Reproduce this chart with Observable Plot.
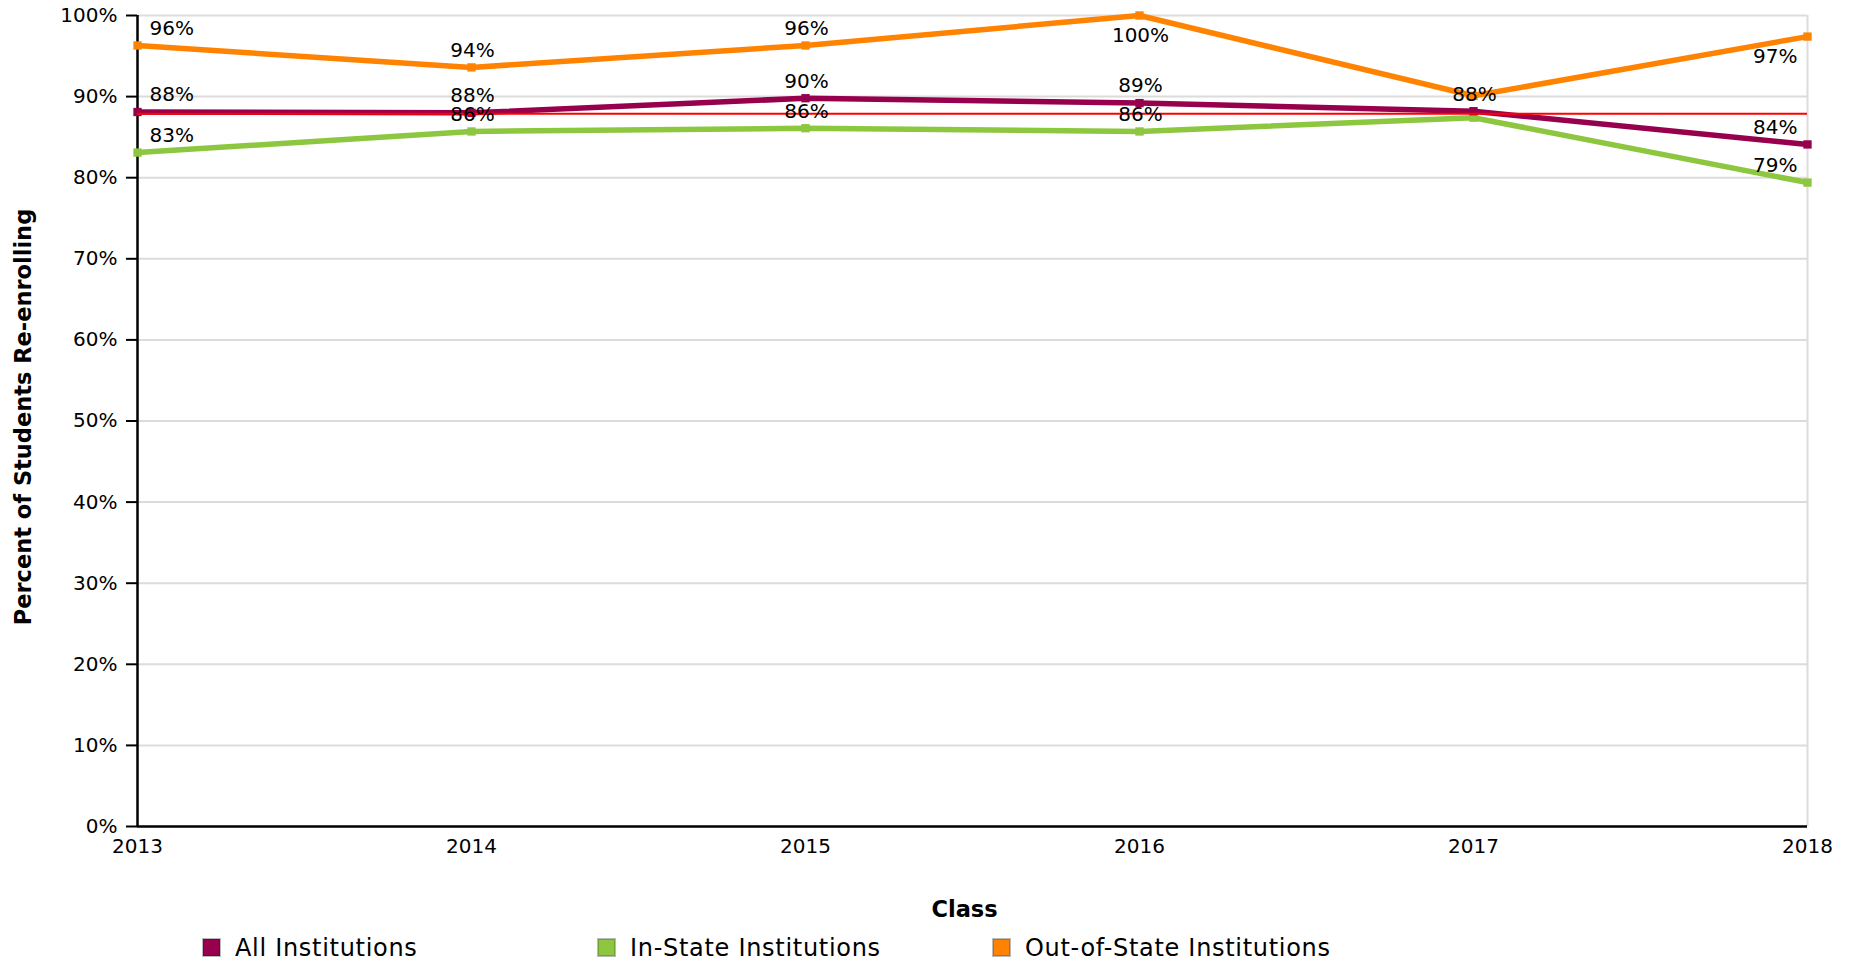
<!DOCTYPE html>
<html>
<head>
<meta charset="utf-8">
<script src="https://cdn.jsdelivr.net/npm/d3@7"></script>
<script src="https://cdn.jsdelivr.net/npm/@observablehq/plot@0.6"></script>
<style>
  html, body { margin: 0; padding: 0; background: #fff; overflow: hidden; }
  body { width: 1858px; height: 966px; font-family: "DejaVu Sans", sans-serif; }
  #legend { display: flex; height: 34px; padding-left: 202px; box-sizing: border-box; padding-top: 6px; }
  .item { display: flex; align-items: center; width: 395px; height: 19px; font-size: 24px; letter-spacing: 0.7px; color: #000; }
  .sw { width: 17px; height: 17px; border: 1px solid #bbb; margin-right: 14px; box-sizing: content-box; }
</style>
</head>
<body>
<div id="chart"></div>
<div id="legend"></div>
<script>
const years = [2013, 2014, 2015, 2016, 2017, 2018];
const allInstitutions = [88.1, 88.0, 89.8, 89.2, 88.2, 84.1];
const inStateInstitutions = [83.1, 85.7, 86.1, 85.7, 87.4, 79.4];
const outOfStateInstitutions = [96.3, 93.6, 96.3, 100, 90.1, 97.4];
const seriesNames = ["All Institutions", "In-State Institutions", "Out-of-State Institutions"];
const seriesColors = ["#97004c", "#8dc63f", "#ff8300"];
const benchmark = [87.9];
const yTicks = [0, 10, 20, 30, 40, 50, 60, 70, 80, 90, 100];
const hiddenLabels = [["In-State Institutions", 2017], ["Out-of-State Institutions", 2017]];
const xTitle = "Class";
const yTitle = "Percent of Students Re-enrolling";

const seriesValues = [allInstitutions, inStateInstitutions, outOfStateInstitutions];
const rows = [];
seriesNames.forEach((name, si) => {
  years.forEach((yr, i) => rows.push({series: name, year: yr, value: seriesValues[si][i]}));
});
const drawOrder = ["In-State Institutions", "All Institutions", "Out-of-State Institutions"];
const sorted = drawOrder.flatMap(n => rows.filter(r => r.series === n));
const colorScale = {domain: seriesNames, range: seriesColors};

const isHidden = r => hiddenLabels.some(([s, y]) => s === r.series && y === r.year);
const firstYear = years[0], lastYear = years[years.length - 1];

function labelMarks() {
  const out = [];
  const anchors = [
    {test: r => r.year === firstYear, textAnchor: "start", dx: 12},
    {test: r => r.year === lastYear, textAnchor: "end", dx: -10},
    {test: r => r.year !== firstYear && r.year !== lastYear, textAnchor: "middle", dx: 1}
  ];
  const places = [
    {test: r => r.value <= 97, dy: -17},
    {test: r => r.value > 97, dy: 20}
  ];
  for (const a of anchors) for (const p of places) {
    out.push(Plot.text(rows.filter(r => a.test(r) && p.test(r) && !isHidden(r)), {
      x: "year", y: "value", text: r => Math.round(r.value) + "%",
      textAnchor: a.textAnchor, dx: a.dx, dy: p.dy, fontSize: 20, fill: "#000"
    }));
  }
  return out;
}

const chart = Plot.plot({
  width: 1858,
  height: 932,
  marginTop: 15,
  marginLeft: 137,
  marginRight: 51,
  marginBottom: 106,
  style: {fontFamily: "DejaVu Sans", fontSize: "20px", color: "#000", background: "#fff", overflow: "visible"},
  x: {domain: [firstYear, lastYear], label: null},
  y: {domain: [0, 100], label: null},
  color: colorScale,
  marks: [
    Plot.ruleY(yTicks.filter(d => d > 0), {stroke: "#dcdcdc", strokeWidth: 2}),
    Plot.ruleX([lastYear], {stroke: "#dcdcdc", strokeWidth: 2}),
    Plot.axisY({ticks: yTicks, tickFormat: d => d + "%", tickSize: 11, tickPadding: 9, strokeWidth: 2, fontSize: 20, label: null}),
    Plot.axisX({ticks: years, tickFormat: d => String(d), tickSize: 0, tickPadding: 12, fontSize: 20, label: null}),
    Plot.ruleX([firstYear], {stroke: "#000", strokeWidth: 2.5}),
    Plot.ruleY([0], {stroke: "#000", strokeWidth: 2.5}),
    Plot.line(sorted, {x: "year", y: "value", z: "series", stroke: "series", strokeWidth: 5.5, strokeLinejoin: "miter", strokeLinecap: "butt"}),
    Plot.dot(sorted, {x: "year", y: "value", fill: "series", symbol: "square", r: 4.7, stroke: null}),
    Plot.ruleY(benchmark, {stroke: "#ff0000", strokeWidth: 2}),
    ...labelMarks(),
    Plot.text([yTitle], {text: d => d, frameAnchor: "left", textAnchor: "middle", lineAnchor: "middle", rotate: -90, dx: -114, dy: -4, fontWeight: "bold", fontSize: 22.5, fill: "#000"}),
    Plot.text([xTitle], {text: d => d, frameAnchor: "bottom", textAnchor: "middle", lineAnchor: "middle", dy: 83, dx: -8, fontWeight: "bold", fontSize: 22.5, fill: "#000"})
  ]
});
document.getElementById("chart").appendChild(chart);

const legend = document.getElementById("legend");
seriesNames.forEach((name, i) => {
  const item = document.createElement("div");
  item.className = "item";
  const sw = document.createElement("div");
  sw.className = "sw";
  sw.style.background = seriesColors[i];
  sw.style.boxShadow = "inset 0 0 0 1px " + d3.color(seriesColors[i]).darker(0.6);
  const label = document.createElement("span");
  label.textContent = name;
  item.appendChild(sw);
  item.appendChild(label);
  legend.appendChild(item);
});
</script>
</body>
</html>
